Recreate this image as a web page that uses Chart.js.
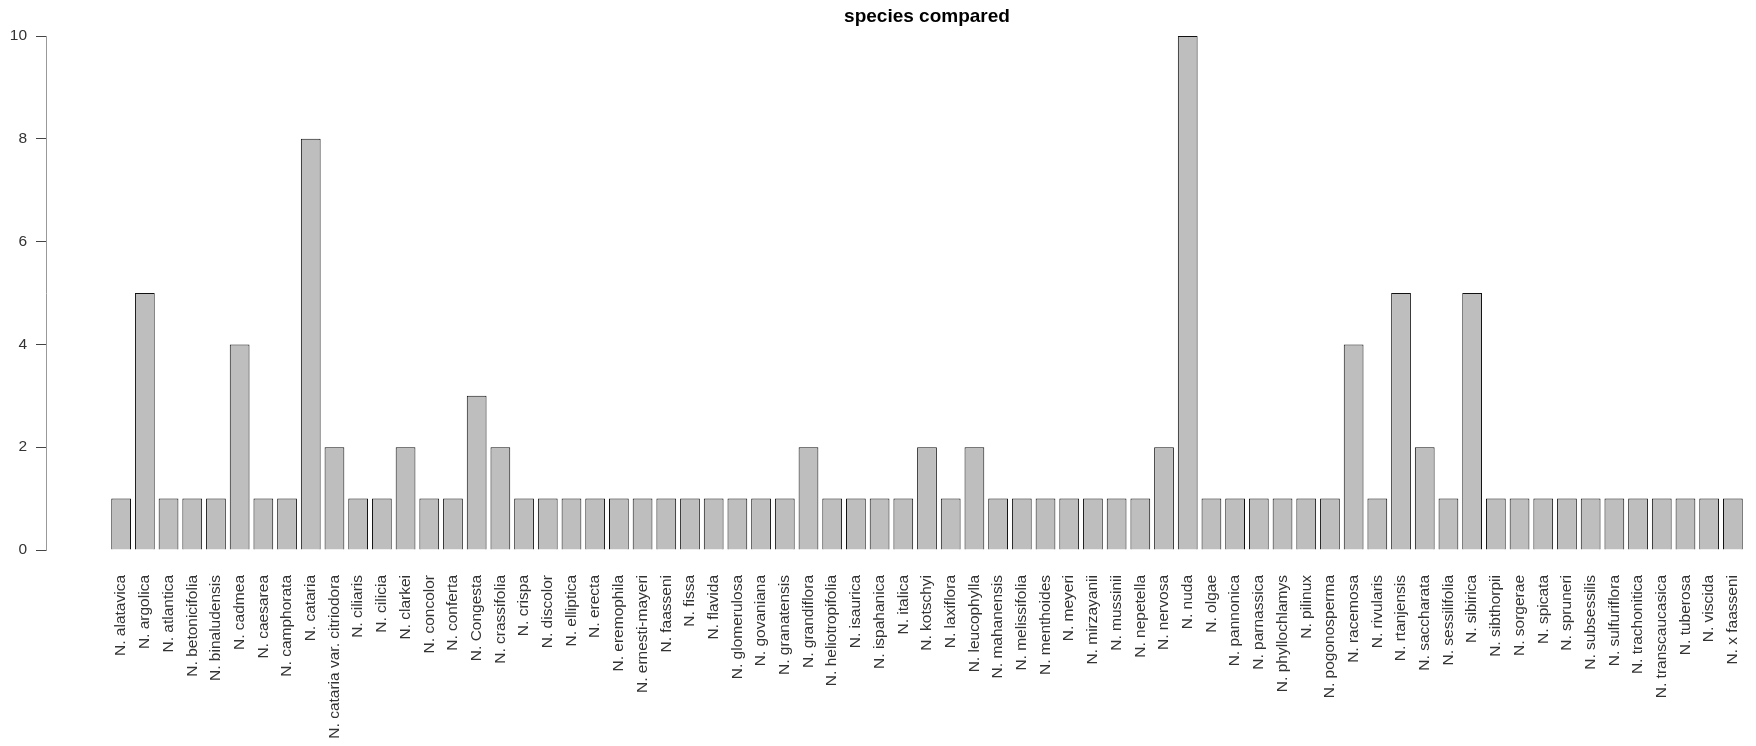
<!DOCTYPE html>
<html>
<head>
<meta charset="utf-8">
<title>species compared</title>
<script src="https://cdn.jsdelivr.net/npm/chart.js@4/dist/chart.umd.min.js"></script>
<style>
    html, body { margin: 0; padding: 0; background: #fff; overflow: hidden; }
    #wrap { width: 1808px; height: 746px; }
</style>
</head>
<body>
<div id="wrap"><canvas id="speciesChart" width="1808" height="746"></canvas></div>
<script>
// Specie e numero di confronti
const species = [
    "N. alatavica", "N. argolica", "N. atlantica", "N. betonicifolia", "N. binaludensis",
    "N. cadmea", "N. caesarea", "N. camphorata", "N. cataria", "N. cataria var. citriodora",
    "N. ciliaris", "N. cilicia", "N. clarkei", "N. concolor", "N. conferta",
    "N. Congesta", "N. crassifolia", "N. crispa", "N. discolor", "N. elliptica",
    "N. erecta", "N. eremophila", "N. ernesti-mayeri", "N. faasseni", "N. fissa",
    "N. flavida", "N. glomerulosa", "N. govaniana", "N. granatensis", "N. grandiflora",
    "N. heliotropifolia", "N. isaurica", "N. ispahanica", "N. italica", "N. kotschyi",
    "N. laxiflora", "N. leucophylla", "N. mahanensis", "N. melissifolia", "N. menthoides",
    "N. meyeri", "N. mirzayanii", "N. mussinii", "N. nepetella", "N. nervosa",
    "N. nuda", "N. olgae", "N. pannonica", "N. parnassica", "N. phyllochlamys",
    "N. pilinux", "N. pogonosperma", "N. racemosa", "N. rivularis", "N. rtanjensis",
    "N. saccharata", "N. sessilifolia", "N. sibirica", "N. sibthorpii", "N. sorgerae",
    "N. spicata", "N. spruneri", "N. subsessilis", "N. sulfuriflora", "N. trachonitica",
    "N. transcaucasica", "N. tuberosa", "N. viscida", "N. x faasseni"
];

const counts = [
    1, 5, 1, 1, 1,
    4, 1, 1, 8, 2,
    1, 1, 2, 1, 1,
    3, 2, 1, 1, 1,
    1, 1, 1, 1, 1,
    1, 1, 1, 1, 2,
    1, 1, 1, 1, 2,
    1, 2, 1, 1, 1,
    1, 1, 1, 1, 2,
    10, 1, 1, 1, 1,
    1, 1, 4, 1, 5,
    2, 1, 5, 1, 1,
    1, 1, 1, 1, 1,
    1, 1, 1, 1
];

const yTicks = [0, 2, 4, 6, 8, 10];

const chartTitle = "species compared";

// barre alle posizioni 1..n, come barplot() di R (space 0.2, margine 4%)
const barPoints = counts.map((v, i) => ({ x: i + 1, y: v }));
const span = species.length * 1.2 - 0.2;
const xMin = (0.2 - 0.04 * span + 0.5) / 1.2;
const xMax = (0.2 + span + 0.04 * span + 0.5) / 1.2;

const labelFont = { family: "'Liberation Sans', Arial, sans-serif", size: 15.5 };

const ctx = document.getElementById("speciesChart").getContext("2d");

new Chart(ctx, {
    type: "bar",
    data: {
        datasets: [{
            label: "specie",
            data: barPoints,
            backgroundColor: "#bebebe",
            borderColor: "#111",
            borderWidth: 1,
            barPercentage: 1 / 1.2,
            categoryPercentage: 1
        }]
    },
    options: {
        responsive: false,
        animation: false,
        layout: { padding: 0 },
        plugins: {
            legend: { display: false },
            tooltip: { enabled: false },
            title: {
                display: true,
                text: chartTitle,
                fullSize: false,
                color: "#000",
                font: { family: "'Liberation Sans', Arial, sans-serif", size: 19, weight: "bold" },
                padding: { top: 5, bottom: 8.2 }
            }
        },
        scales: {
            x: {
                type: "linear",
                min: xMin,
                max: xMax,
                offset: false,
                grid: { display: false, drawTicks: false },
                border: { display: false },
                ticks: {
                    stepSize: 1,
                    includeBounds: false,
                    autoSkip: false,
                    maxRotation: 90,
                    minRotation: 90,
                    padding: 25,
                    color: "#333",
                    font: labelFont,
                    callback: value => (Number.isInteger(value) && value >= 1 && value <= species.length)
                        ? species[value - 1] : ""
                },
                afterFit: scale => {
                    scale.height = 196;
                    scale.paddingLeft = 0;
                    scale.paddingRight = 0;
                }
            },
            y: {
                type: "linear",
                min: 0,
                max: 10,
                grid: { drawOnChartArea: false, drawTicks: true, tickLength: 10, tickColor: "#444" },
                border: { display: true, color: "#999", width: 1 },
                ticks: {
                    padding: 9,
                    color: "#333",
                    font: labelFont
                },
                afterBuildTicks: scale => { scale.ticks = yTicks.map(v => ({ value: v })); },
                afterFit: scale => { scale.width = 46; }
            }
        }
    }
});
</script>
</body>
</html>
